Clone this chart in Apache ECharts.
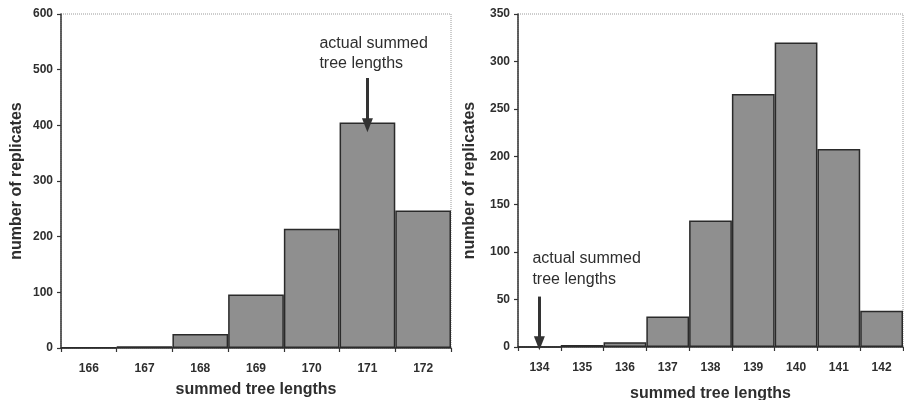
<!DOCTYPE html>
<html>
<head>
<meta charset="utf-8">
<script src="https://cdn.jsdelivr.net/npm/echarts@6/dist/echarts.min.js"></script>
<style>
html,body{margin:0;padding:0;background:#fff;}
#c{width:904px;height:400px;}
</style>
</head>
<body>
<div id="c"></div>
<script>
// Left panel data
var leftCategories = ['166','167','168','169','170','171','172'];
var leftCounts = [1, 3, 25, 96, 214, 405, 247];
// Right panel data
var rightCategories = ['134','135','136','137','138','139','140','141','142'];
var rightCounts = [0, 2, 5, 32, 133, 266, 320, 208, 38];
// Axis ticks
var leftYTicks = [0, 100, 200, 300, 400, 500, 600];
var rightYTicks = [0, 50, 100, 150, 200, 250, 300, 350];
var annotationText = 'actual summed\ntree lengths';

var FONT = '"Liberation Sans", Arial, sans-serif';
var TXT = '#2e2e2e';

function xAxisCfg(idx, cats, gap) {
  return {
    type: 'category', gridIndex: idx, data: cats,
    name: 'summed tree lengths', nameLocation: 'middle', nameGap: gap,
    nameTextStyle: {fontFamily: FONT, fontWeight: 'bold', fontSize: 16, color: TXT},
    axisLine: {lineStyle: {color: '#333', width: 1.5}},
    axisTick: {show: true, length: 4, lineStyle: {color: '#333', width: 1.2}},
    axisLabel: {fontFamily: FONT, fontWeight: 'bold', fontSize: 12, color: TXT, margin: 15},
    splitLine: {show: false}
  };
}
function yAxisCfg(idx, ticks, gap) {
  return {
    type: 'value', gridIndex: idx,
    min: ticks[0], max: ticks[ticks.length - 1], interval: ticks[1] - ticks[0],
    name: 'number of replicates', nameLocation: 'middle', nameGap: gap,
    nameTextStyle: {fontFamily: FONT, fontWeight: 'bold', fontSize: 16, color: TXT},
    axisLine: {show: true, lineStyle: {color: '#333', width: 1.5}},
    axisTick: {show: true, length: 4, lineStyle: {color: '#333', width: 1.2}},
    axisLabel: {fontFamily: FONT, fontWeight: 'bold', fontSize: 12, color: TXT, margin: 8},
    splitLine: {show: false}
  };
}
var barStyle = {color: '#8f8f8f', borderColor: '#2a2a2a', borderWidth: 1.5};

var chart = echarts.init(document.getElementById('c'), null, {renderer: 'canvas'});
chart.setOption({
  backgroundColor: '#ffffff',
  animation: false,
  grid: [
    {left: 61, top: 14, width: 390, bottom: 52, outerBoundsMode: 'none', containLabel: false,
     show: true, borderColor: '#9a9a9a', borderWidth: 1, borderType: 'dotted'},
    {left: 518, top: 14, right: 1, bottom: 53, outerBoundsMode: 'none', containLabel: false,
     show: true, borderColor: '#9a9a9a', borderWidth: 1, borderType: 'dotted'}
  ],
  xAxis: [xAxisCfg(0, leftCategories, 34), xAxisCfg(1, rightCategories, 39)],
  yAxis: [yAxisCfg(0, leftYTicks, 36), yAxisCfg(1, rightYTicks, 40)],
  series: [
    {
      type: 'bar', xAxisIndex: 0, yAxisIndex: 0, data: leftCounts,
      barCategoryGap: '0%', itemStyle: barStyle,
      markLine: {
        silent: true, symbol: ['none', 'triangle'], symbolSize: [11, 14],
        lineStyle: {color: '#333', width: 3, type: 'solid'}, label: {show: false},
        data: [[{coord: ['171', 485]}, {coord: ['171', 400]}]]
      },
      markPoint: {
        silent: true, symbol: 'circle', symbolSize: 0,
        label: {show: true, position: 'inside', align: 'left', verticalAlign: 'middle', offset: [-48, 1],
          fontFamily: FONT, fontSize: 16, color: TXT, lineHeight: 20, formatter: annotationText},
        data: [{coord: ['171', 531]}]
      }
    },
    {
      type: 'bar', xAxisIndex: 1, yAxisIndex: 1, data: rightCounts,
      barCategoryGap: '0%', itemStyle: barStyle,
      markLine: {
        silent: true, symbol: ['none', 'triangle'], symbolSize: [11, 14],
        lineStyle: {color: '#333', width: 3, type: 'solid'}, label: {show: false},
        data: [[{coord: ['134', 53]}, {coord: ['134', 4]}]]
      },
      markPoint: {
        silent: true, symbol: 'circle', symbolSize: 0,
        label: {show: true, position: 'inside', align: 'left', verticalAlign: 'middle', offset: [-7, 0],
          fontFamily: FONT, fontSize: 16, color: TXT, lineHeight: 21, formatter: annotationText},
        data: [{coord: ['134', 82]}]
      }
    }
  ]
});
</script>
</body>
</html>
